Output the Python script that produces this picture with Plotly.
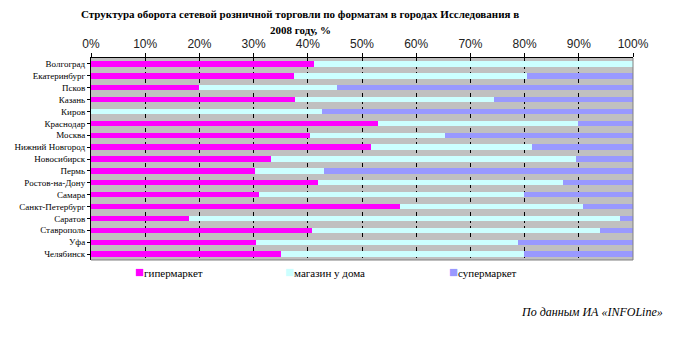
import plotly.graph_objects as go

cities = ["Волгоград", "Екатеринбург", "Псков", "Казань", "Киров", "Краснодар",
          "Москва", "Нижний Новгород", "Новосибирск", "Пермь", "Ростов-на-Дону",
          "Самара", "Санкт-Петербург", "Саратов", "Ставрополь", "Уфа", "Челябинск"]

hyper = [41.1, 37.5, 20.0, 37.6, 0.0, 52.9, 40.4, 51.7, 33.3, 30.3, 41.8,
         31.0, 57.0, 18.1, 40.8, 30.4, 35.1]
near_home = [58.9, 43.0, 25.3, 36.8, 42.6, 37.0, 24.9, 29.6, 56.2, 12.7, 45.3,
             48.8, 33.8, 79.5, 53.1, 48.4, 44.8]
super_ = [0.0, 19.5, 54.7, 25.6, 57.4, 10.1, 34.7, 18.7, 10.5, 57.0, 12.9,
          20.2, 9.2, 2.4, 6.1, 21.2, 20.1]

series_names = ["гипермаркет", "магазин у дома", "супермаркет"]
series_colors = ["#FF00FF", "#CCFFFF", "#9999FF"]
x_ticks = [0, 10, 20, 30, 40, 50, 60, 70, 80, 90, 100]
x_ticklabels = [f"{v}%" for v in x_ticks]
title_lines = ["Структура оборота сетевой розничной торговли по форматам в городах Исследования в",
               "2008 году, %"]

fig = go.Figure()
for name, vals, col in zip(series_names, [hyper, near_home, super_], series_colors):
    fig.add_trace(go.Bar(
        y=cities, x=vals, name=name, orientation="h",
        marker=dict(color=col, line=dict(width=0)),
    ))

serif = "Liberation Serif, Times New Roman, serif"

# compact legend row below the plot: colour square followed by the series name
legend_x = [0.077, 0.354, 0.657]
legend_notes = [
    dict(text=f"<span style='color:{col};font-size:15px'>■</span>{name}",
         xref="paper", yref="paper", x=lx, y=-0.059,
         xanchor="left", yanchor="middle", showarrow=False,
         font=dict(family=serif, size=11, color="black"))
    for name, col, lx in zip(series_names, series_colors, legend_x)
]

# two-line bold heading above the axis labels
title_notes = [
    dict(text=f"<b>{line}</b>", xref="paper", yref="paper",
         x=(300 - 91) / 542, y=ty, xanchor="center", yanchor="middle",
         showarrow=False, font=dict(family=serif, size=11, color="black"))
    for line, ty in zip(title_lines, [1.218, 1.139])
]

fig.update_layout(
    width=673, height=337,
    margin=dict(l=91, r=40, t=58, b=77),
    paper_bgcolor="white",
    plot_bgcolor="#C0C0C0",
    barmode="stack",
    bargap=0.55,
    showlegend=False,
    xaxis=dict(
        side="top", range=[0, 100], tickvals=x_ticks, ticktext=x_ticklabels,
        showgrid=True, gridcolor="black", gridwidth=1, griddash="4px,3px",
        showline=True, linecolor="black", linewidth=1,
        ticks="outside", ticklen=4, tickcolor="black",
        tickfont=dict(family="Liberation Sans, Arial, sans-serif", size=12, color="#222222"),
        zeroline=False, fixedrange=True,
    ),
    yaxis=dict(
        autorange="reversed",
        showline=True, linecolor="black", linewidth=1,
        ticks="outside", ticklen=3, tickcolor="black",
        tickfont=dict(family=serif, size=9, color="black"),
        showgrid=False, fixedrange=True,
    ),
    annotations=title_notes + [
        dict(text="<i>По данным ИА «INFOLine»</i>",
             xref="paper", yref="paper", x=1.059, y=-0.255,
             xanchor="right", yanchor="middle", showarrow=False,
             font=dict(family=serif, size=12, color="black")),
    ] + legend_notes,
    shapes=[
        # grey frame on right and bottom of the plot area
        dict(type="line", xref="paper", yref="paper", x0=1, x1=1, y0=0, y1=1,
             line=dict(color="#808080", width=1)),
        dict(type="line", xref="paper", yref="paper", x0=0, x1=1, y0=0, y1=0,
             line=dict(color="#808080", width=1)),
    ],
)

fig.write_html("out.html")
